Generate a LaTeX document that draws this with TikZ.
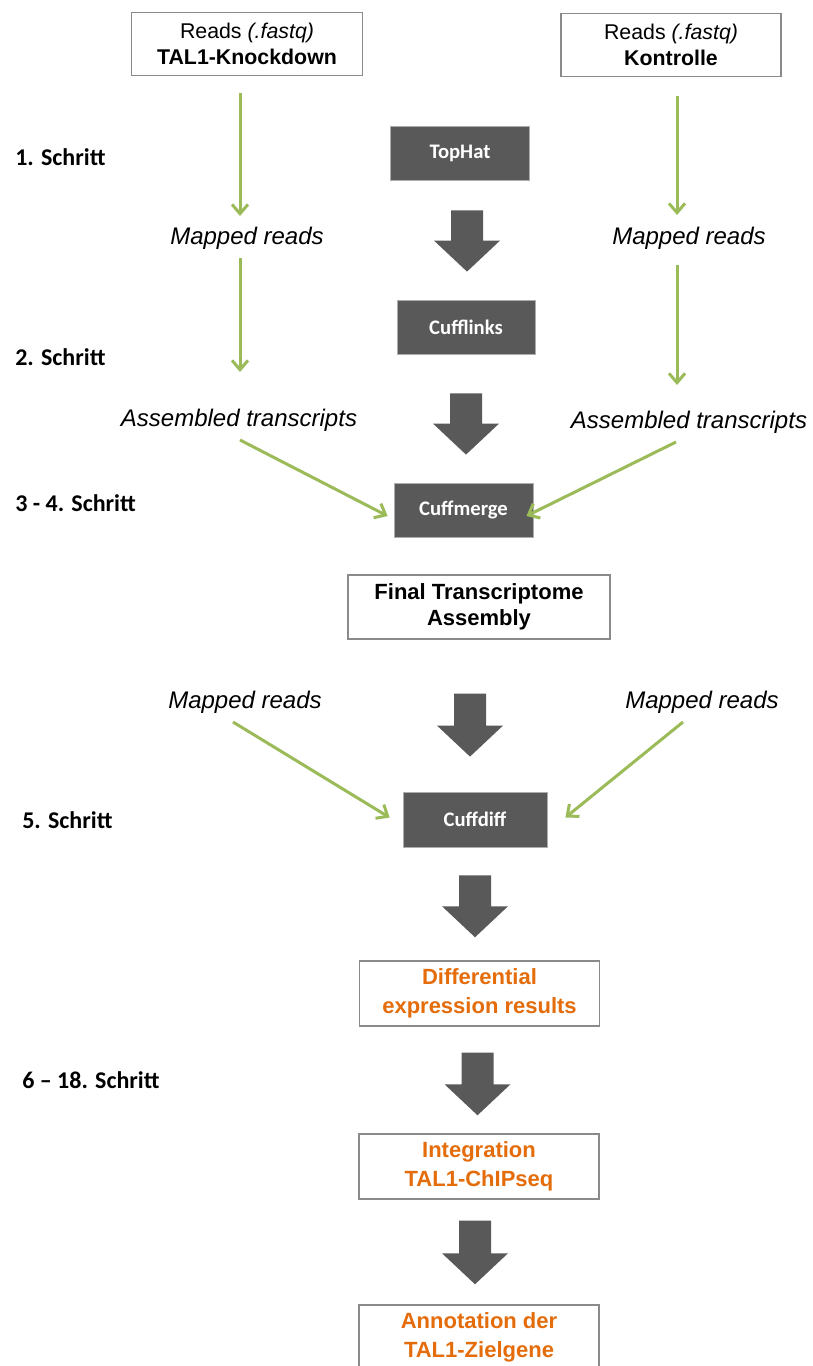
\documentclass[tikz,border=0pt]{standalone}
\usepackage{fontspec}
\setmainfont{Liberation Sans}
\newfontfamily\calibri{Carlito}
\usetikzlibrary{arrows.meta,calc}

\definecolor{leafgreen}{HTML}{9BBB59}
\definecolor{toolgray}{HTML}{595959}
\definecolor{rimgray}{HTML}{8A8A8A}
\definecolor{resorange}{HTML}{E46C0A}
\newcommand{\pxu}{0.75pt}

\begin{document}
\begin{tikzpicture}[
  x=0.75pt, y=-0.75pt,
  readbox/.style={
    draw=rimgray, line width=1.1pt, fill=white, align=center, inner sep=0pt,
    minimum height=63*\pxu, font=\fontsize{16}{20}\selectfont
  },
  toolbox/.style={
    fill=toolgray, draw=rimgray!70, line width=0.6pt, inner sep=0pt,
    minimum width=139*\pxu, minimum height=54*\pxu, text=white,
    font=\calibri\bfseries\fontsize{15.5}{18}\selectfont
  },
  outbox/.style={
    readbox, minimum width=240*\pxu, minimum height=65*\pxu, text=resorange,
    font=\bfseries\fontsize{16.5}{22}\selectfont
  },
  schritt/.style={anchor=west, inner sep=0pt, font=\calibri\bfseries\fontsize{18}{20}\selectfont},
  mapped/.style={inner sep=0pt, font=\itshape\fontsize{18}{20}\selectfont},
  feed/.style={draw=leafgreen, line width=2.25pt, -{Straight Barb[length=7pt,width=12pt]}},
  flow/.style={
    fill=toolgray,
    to path={($(\tikztostart)+(-16,0)$) -- ($(\tikztostart)+(16,0)$)
      -- ($(\tikztotarget)+(16,-31)$) -- ($(\tikztotarget)+(33,-31)$)
      -- (\tikztotarget) -- ($(\tikztotarget)+(-33,-31)$)
      -- ($(\tikztotarget)+(-16,-31)$) -- cycle}
  }
]
\useasboundingbox (0,0) rectangle (813,1366);

% Input reads
\node[readbox, minimum width=231*\pxu] (knock) at (247,44) {Reads \textit{(.fastq)}\\\textbf{TAL1-Knockdown}};
\node[readbox, minimum width=220*\pxu] (kontrolle) at (671,45) {Reads \textit{(.fastq)}\\\textbf{Kontrolle}};

% Tools
\node[toolbox] (tophat) at (460,153) {TopHat};
\node[toolbox, minimum width=138*\pxu] (cufflinks) at (466,327) {Cufflinks};
\node[toolbox] (cuffmerge) at (463.5,510) {Cuffmerge};
\node[readbox, minimum width=262*\pxu, minimum height=64*\pxu, font=\bfseries\fontsize{16.5}{19.5}\selectfont]
  (final) at (479,607) {Final Transcriptome\\Assembly};
\node[toolbox, minimum width=144*\pxu, minimum height=55*\pxu] (cuffdiff) at (475,819.5) {Cuffdiff};

% Results
\node[outbox] (diffexp) at (479.5,993.5) {Differential\\expression results};
\node[outbox] (integ) at (479,1166.5) {Integration\\TAL1-ChIPseq};
\node[outbox] (annot) at (479,1337.5) {Annotation der\\TAL1-Zielgene};

% Intermediate files
\node[mapped] (mappedL) at (247,238) {Mapped reads};
\node[mapped] (mappedR) at (689,238) {Mapped reads};
\node[mapped] (asmL) at (239,420) {Assembled transcripts};
\node[mapped] (asmR) at (689,422) {Assembled transcripts};
\node[mapped] (mapped3L) at (245,702) {Mapped reads};
\node[mapped] (mapped3R) at (702,702) {Mapped reads};

% Steps
\node[schritt] (s1) at (15,157) {1. Schritt};
\node[schritt] (s2) at (15,357) {2. Schritt};
\node[schritt] (s3) at (15,503) {3 - 4. Schritt};
\node[schritt] (s5) at (22,820) {5. Schritt};
\node[schritt] (s6) at (22,1080) {6 – 18. Schritt};

% Green data flows
\draw[feed] ($(knock.south)+(-7,17)$) -- ($(mappedL.center)+(-7,-22)$);
\draw[feed] ($(mappedL.center)+(-7,20)$) -- ($(asmL.center)+(1,-48)$);
\draw[feed] ($(asmL.center)+(1,20)$) -- ($(cuffmerge.west)+(-6,6)$);
\draw[feed] ($(kontrolle.south)+(6,19)$) -- ($(mappedR.center)+(-12,-23)$);
\draw[feed] ($(mappedR.center)+(-12,27)$) -- ($(asmR.center)+(-12,-37)$);
\draw[feed] ($(asmR.center)+(-13,20)$) -- ($(cuffmerge.east)+(-7,6)$);
\draw[feed] ($(mapped3L.center)+(-12,20)$) -- ($(cuffdiff.west)+(-13,-2)$);
\draw[feed] ($(mapped3R.center)+(-19,20)$) -- ($(cuffdiff.east)+(18,-2)$);

% Big pipeline arrows
\path[flow] ($(tophat.south)+(7,30)$) to ($(cufflinks.north)+(1,-28)$);
\path[flow] ($(cufflinks.south)+(0,39)$) to ($(cuffmerge.north)+(2.5,-28)$);
\path[flow] ($(final.south)+(-9,54)$) to ($(cuffdiff.north)+(-5,-35)$);
\path[flow] ($(cuffdiff.south)+(0,28)$) to ($(diffexp.north)+(-4.5,-23)$);
\path[flow] ($(diffexp.south)+(-2,26)$) to ($(integ.north)+(-1.5,-18)$);
\path[flow] ($(integ.south)+(-4,21)$) to ($(annot.north)+(-4,-20)$);

\end{tikzpicture}
\end{document}
